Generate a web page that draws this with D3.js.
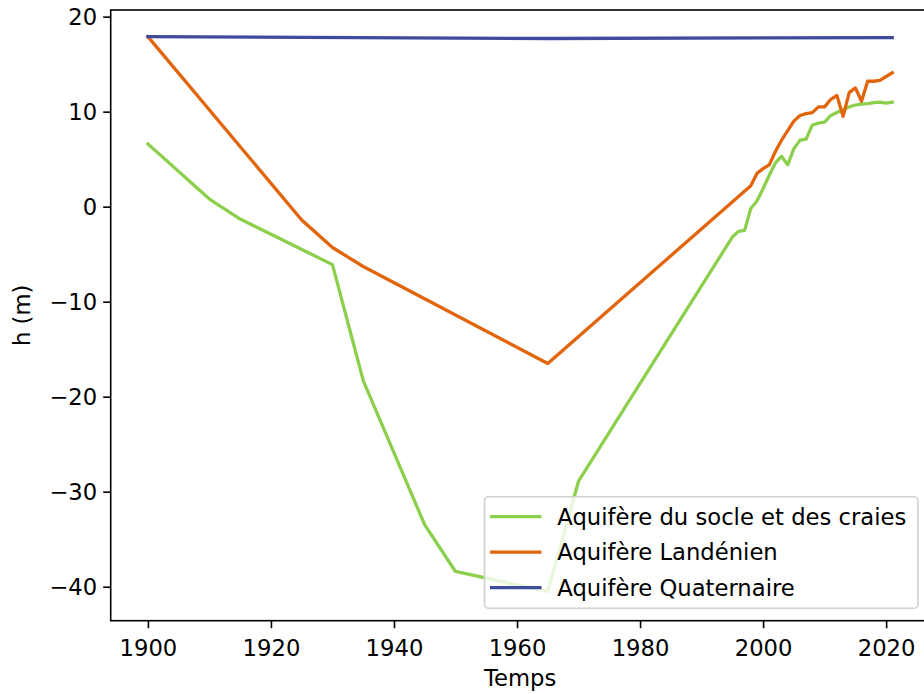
<!DOCTYPE html>
<html>
<head>
<meta charset="utf-8">
<script src="https://cdn.jsdelivr.net/npm/d3@7"></script>
<style>
  html, body { margin: 0; padding: 0; background: #ffffff; }
  svg { display: block; }
  text { font-family: "DejaVu Sans", sans-serif; }
</style>
</head>
<body>
<svg id="chart" width="924" height="694"></svg>
<script>
// ---- Data ----
const seriesNames = ["Aquifère du socle et des craies", "Aquifère Landénien", "Aquifère Quaternaire"];
const seriesColors = ["#8ccf4c", "#e2650b", "#3f4c9b"];

const yearsSocle = [1900, 1910, 1915, 1930, 1935, 1945, 1950, 1965, 1970, 1995, 1996, 1997, 1998, 1999, 2000,
  2001, 2002, 2003, 2004, 2005, 2006, 2007, 2008, 2009, 2010, 2011, 2012, 2013, 2014, 2015, 2016, 2017, 2018, 2019, 2020, 2021];
const hSocle = [6.6, 0.8, -1.3, -6.1, -18.3, -33.5, -38.4, -40.5, -28.9, -3.2, -2.6, -2.5, -0.2, 0.6, 1.9,
  3.3, 4.6, 5.3, 4.4, 6.1, 7.0, 7.1, 8.6, 8.8, 8.9, 9.6, 9.9, 10.2, 10.5, 10.7, 10.8, 10.85, 10.95, 11.0, 10.9, 11.0];

const yearsLand = [1900, 1925, 1930, 1935, 1965, 1998, 1999, 2000, 2001, 2002, 2003, 2004, 2005, 2006, 2007, 2008,
  2009, 2010, 2011, 2012, 2013, 2014, 2015, 2016, 2017, 2018, 2019, 2020, 2021];
const hLand = [17.9, -1.4, -4.3, -6.3, -16.5, 2.2, 3.5, 4.0, 4.4, 5.8, 7.0, 8.0, 9.0, 9.6, 9.8, 9.9,
  10.5, 10.5, 11.3, 11.7, 9.5, 12.0, 12.5, 11.1, 13.2, 13.2, 13.3, 13.7, 14.1];

const yearsQuat = [1900, 1965, 2021];
const hQuat = [17.9, 17.7, 17.8];

const xTicks = [1900, 1920, 1940, 1960, 1980, 2000, 2020];
const yTicks = [-40, -30, -20, -10, 0, 10, 20];
const xLabel = "Temps";
const yLabel = "h (m)";

// ---- Layout ----
const svg = d3.select("#chart");
const plotL = 110.7, plotR = 929.5, plotT = 10, plotB = 620.7;
const FS = 22.7;

const x = d3.scaleLinear().domain([1893.95, 2027.05]).range([plotL, plotR]);
const y = d3.scaleLinear().domain([-43.58, 20.7]).range([plotB, plotT]);

svg.append("defs").append("clipPath").attr("id", "clip")
  .append("rect").attr("x", plotL).attr("y", plotT).attr("width", plotR - plotL).attr("height", plotB - plotT);

const series = [
  { name: seriesNames[0], color: seriesColors[0], xs: yearsSocle, ys: hSocle },
  { name: seriesNames[1], color: seriesColors[1], xs: yearsLand, ys: hLand },
  { name: seriesNames[2], color: seriesColors[2], xs: yearsQuat, ys: hQuat }
];

const line = d3.line().x(d => x(d[0])).y(d => y(d[1]));

const gLines = svg.append("g").attr("clip-path", "url(#clip)");
series.forEach(s => {
  gLines.append("path")
    .datum(s.xs.map((v, i) => [v, s.ys[i]]))
    .attr("d", line)
    .attr("fill", "none")
    .attr("stroke", s.color)
    .attr("stroke-width", 3.3)
    .attr("stroke-linejoin", "round")
    .attr("stroke-linecap", "square");
});

// ---- Axes ----
const fmt = d => (d < 0 ? "\u2212" + Math.abs(d) : String(d));

const xAxis = svg.append("g")
  .attr("transform", `translate(0,${plotB})`)
  .call(d3.axisBottom(x).tickValues(xTicks).tickFormat(d => String(d)).tickSize(7.5).tickPadding(11.3).tickSizeOuter(0));
const yAxis = svg.append("g")
  .attr("transform", `translate(${plotL},0)`)
  .call(d3.axisLeft(y).tickValues(yTicks).tickFormat(fmt).tickSize(7.5).tickPadding(6).tickSizeOuter(0));

[xAxis, yAxis].forEach(g => {
  g.select(".domain").remove();
  g.selectAll(".tick line").attr("stroke", "#000").attr("stroke-width", 1.6);
  g.selectAll(".tick text").attr("fill", "#000").style("font-size", FS + "px").style("font-family", "DejaVu Sans");
});
yAxis.selectAll(".tick text").attr("dy", "0.36em");

// spines
svg.append("rect")
  .attr("x", plotL).attr("y", plotT).attr("width", plotR - plotL).attr("height", plotB - plotT)
  .attr("fill", "none").attr("stroke", "#000").attr("stroke-width", 1.6);

// axis labels
svg.append("text").attr("x", (plotL + plotR) / 2).attr("y", 686)
  .attr("text-anchor", "middle").style("font-size", FS + "px").attr("fill", "#000").text(xLabel);
svg.append("text").attr("transform", `translate(30,${(plotT + plotB) / 2}) rotate(-90)`)
  .attr("text-anchor", "middle").style("font-size", FS + "px").attr("fill", "#000").text(yLabel);

// ---- Legend ----
const lg = svg.append("g");
const lx = 484.5, ly = 496.7, lw = 433.5, lh = 111.5;
lg.append("rect").attr("x", lx).attr("y", ly).attr("width", lw).attr("height", lh)
  .attr("rx", 4).attr("ry", 4)
  .attr("fill", "rgba(255,255,255,0.8)").attr("stroke", "#d0d0d0").attr("stroke-width", 1.6);
series.forEach((s, i) => {
  const cy = ly + 20 + i * 35.5;
  lg.append("line").attr("x1", lx + 5.5).attr("x2", lx + 57).attr("y1", cy).attr("y2", cy)
    .attr("stroke", s.color).attr("stroke-width", 3.3).attr("stroke-linecap", "butt");
  lg.append("text").attr("x", lx + 72.8).attr("y", cy).attr("dy", "0.36em")
    .style("font-size", FS + "px").attr("fill", "#000").text(s.name);
});
</script>
</body>
</html>
